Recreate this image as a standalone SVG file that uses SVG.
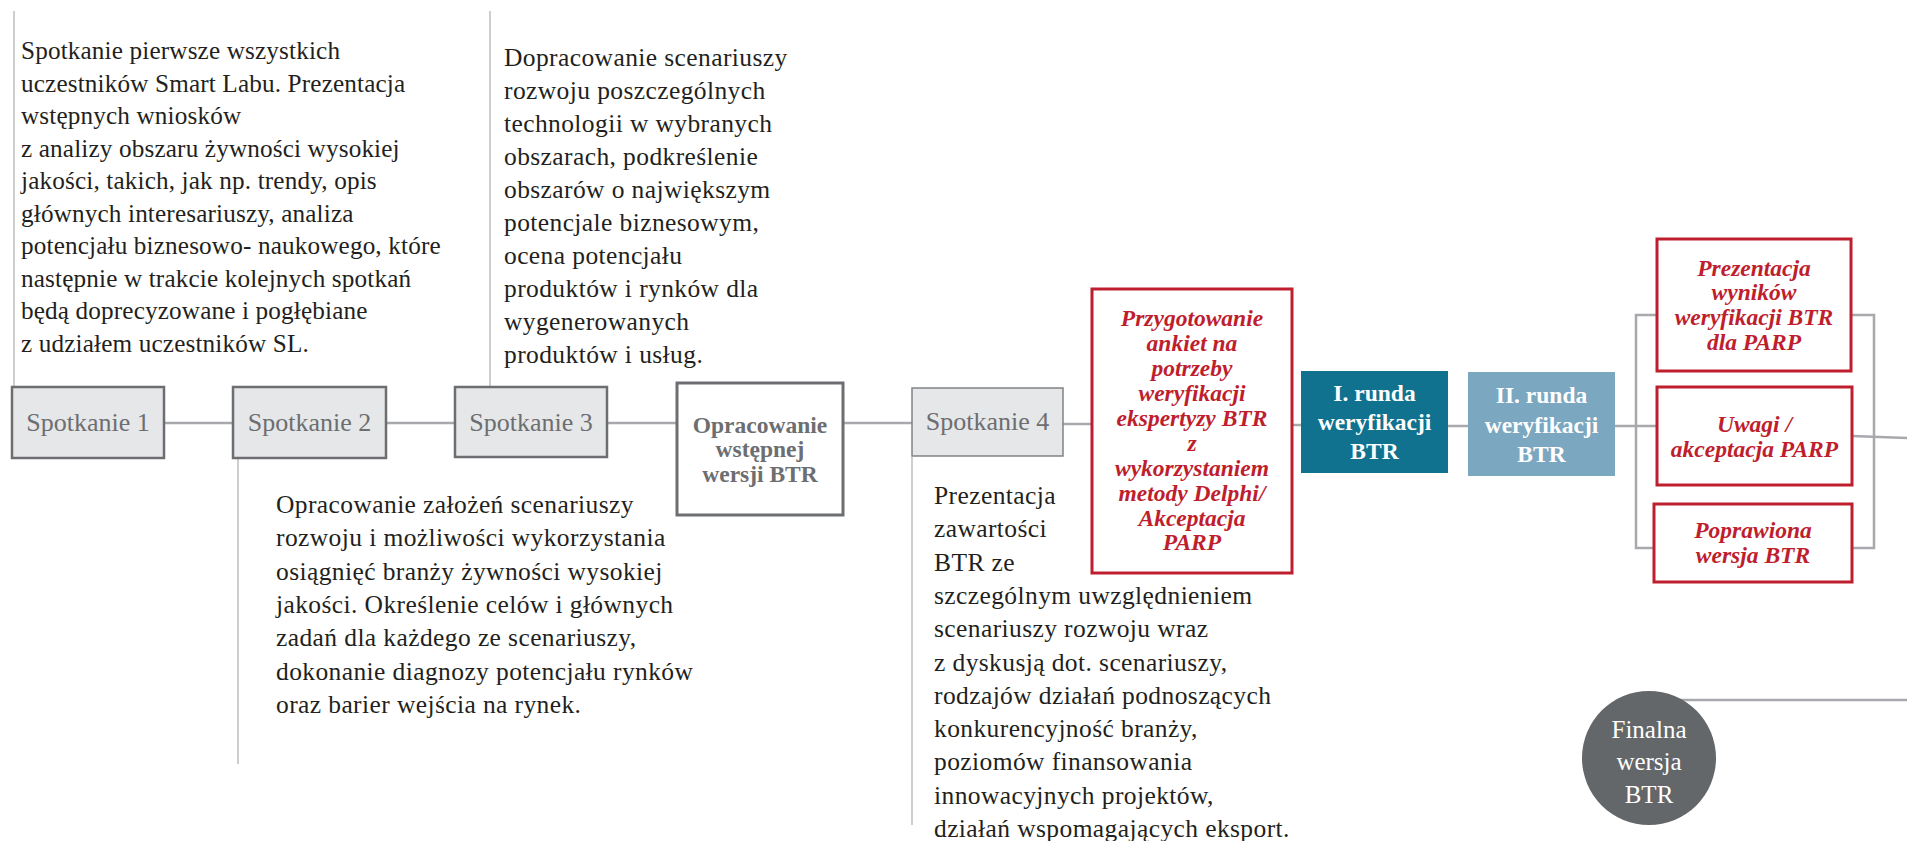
<svg xmlns="http://www.w3.org/2000/svg" width="1907" height="841" viewBox="0 0 1907 841">
<style>
.bg{fill:#ffffff}
.conn{stroke:#a7a9ac;stroke-width:2.5;fill:none}
.vline{stroke:#bcbec0;stroke-width:1.5;fill:none}
.gbox{fill:#e6e7e8;stroke:#6d6e71;stroke-width:2.5}
.gbox4{fill:#e6e7e8;stroke:#808285;stroke-width:1.5}
.wbox{fill:#ffffff;stroke:#6d6e71;stroke-width:3}
.rbox{fill:#ffffff;stroke:#be1e2d;stroke-width:3}
.gtxt{font-family:"Liberation Serif","Times New Roman",serif;font-size:26px;fill:#6d6e71;text-anchor:middle}
.desc{font-family:"Liberation Serif","Times New Roman",serif;font-size:25.5px;fill:#231f20;letter-spacing:0.4px}
.desc1{font-family:"Liberation Serif","Times New Roman",serif;font-size:25.2px;fill:#231f20;letter-spacing:0.15px}
.btxt{font-family:"Liberation Serif","Times New Roman",serif;font-size:23.5px;font-weight:bold;fill:#6d6e71;text-anchor:middle}
.rtxt{font-family:"Liberation Serif","Times New Roman",serif;font-size:23.5px;font-weight:bold;font-style:italic;fill:#be1e2d;text-anchor:middle}
.wtxt{font-family:"Liberation Serif","Times New Roman",serif;font-size:23.5px;font-weight:bold;fill:#ffffff;text-anchor:middle}
.ftxt{font-family:"Liberation Serif","Times New Roman",serif;font-size:25px;fill:#ffffff;text-anchor:middle}
</style>
<rect class="bg" x="0" y="0" width="1907" height="841"/>
<g id="connectors">
  <line class="vline" x1="14" y1="11" x2="14" y2="387"/>
  <line class="vline" x1="490" y1="11" x2="490" y2="387"/>
  <line class="vline" x1="238" y1="458" x2="238" y2="764"/>
  <line class="vline" x1="912" y1="457" x2="912" y2="825"/>
  <line class="conn" x1="164" y1="423" x2="233" y2="423"/>
  <line class="conn" x1="386" y1="423" x2="455" y2="423"/>
  <line class="conn" x1="607" y1="423" x2="677" y2="423"/>
  <line class="conn" x1="843" y1="423" x2="912" y2="423"/>
  <line class="conn" x1="1063" y1="424" x2="1092" y2="424"/>
  <line class="conn" x1="1292" y1="425" x2="1301" y2="425"/>
  <line class="conn" x1="1448" y1="426" x2="1468" y2="426"/>
  <line class="conn" x1="1615" y1="426" x2="1657" y2="426"/>
  <polyline class="conn" points="1657,315 1636,315 1636,548 1654,548"/>
  <polyline class="conn" points="1851,315 1874,315 1874,548 1852,548"/>
  <line class="conn" x1="1852" y1="436" x2="1907" y2="438"/>
  <line class="conn" x1="1677" y1="700" x2="1907" y2="700"/>
</g>
<g id="spotkanie1">
  <rect class="gbox" x="12" y="387" width="152" height="71"/>
  <text class="gtxt" x="88" y="431">Spotkanie 1</text>
</g>
<g id="spotkanie2">
  <rect class="gbox" x="233" y="387" width="153" height="71"/>
  <text class="gtxt" x="309.5" y="431">Spotkanie 2</text>
</g>
<g id="spotkanie3">
  <rect class="gbox" x="455" y="387" width="152" height="70"/>
  <text class="gtxt" x="531" y="431">Spotkanie 3</text>
</g>
<g id="opracowanie">
  <rect class="wbox" x="677" y="383" width="166" height="132"/>
  <text class="btxt" x="760" y="433">Opracowanie</text>
  <text class="btxt" x="760" y="457">wstępnej</text>
  <text class="btxt" x="760" y="482">wersji BTR</text>
</g>
<g id="spotkanie4">
  <rect class="gbox4" x="912" y="388" width="151" height="68"/>
  <text class="gtxt" x="987.5" y="430">Spotkanie 4</text>
</g>
<g id="przygotowanie">
  <rect class="rbox" x="1092" y="289" width="200" height="284"/>
  <text class="rtxt" x="1192" y="326">Przygotowanie</text>
  <text class="rtxt" x="1192" y="351">ankiet na</text>
  <text class="rtxt" x="1192" y="376">potrzeby</text>
  <text class="rtxt" x="1192" y="401">weryfikacji</text>
  <text class="rtxt" x="1192" y="426">ekspertyzy BTR</text>
  <text class="rtxt" x="1192" y="451">z</text>
  <text class="rtxt" x="1192" y="476">wykorzystaniem</text>
  <text class="rtxt" x="1192" y="501">metody Delphi/</text>
  <text class="rtxt" x="1192" y="526">Akceptacja</text>
  <text class="rtxt" x="1192" y="550">PARP</text>
</g>
<g id="runda1">
  <rect x="1301" y="371" width="147" height="102" fill="#10728f"/>
  <text class="wtxt" x="1374.5" y="401">I. runda</text>
  <text class="wtxt" x="1374.5" y="430">weryfikacji</text>
  <text class="wtxt" x="1374.5" y="459">BTR</text>
</g>
<g id="runda2">
  <rect x="1468" y="372" width="147" height="104" fill="#7ba7c0"/>
  <text class="wtxt" x="1541.5" y="403">II. runda</text>
  <text class="wtxt" x="1541.5" y="433">weryfikacji</text>
  <text class="wtxt" x="1541.5" y="462">BTR</text>
</g>
<g id="prezentacja">
  <rect class="rbox" x="1657" y="239" width="194" height="132"/>
  <text class="rtxt" x="1754" y="276">Prezentacja</text>
  <text class="rtxt" x="1754" y="300">wyników</text>
  <text class="rtxt" x="1754" y="325">weryfikacji BTR</text>
  <text class="rtxt" x="1754" y="350">dla PARP</text>
</g>
<g id="uwagi">
  <rect class="rbox" x="1657" y="387" width="195" height="98"/>
  <text class="rtxt" x="1754.5" y="432">Uwagi /</text>
  <text class="rtxt" x="1754.5" y="457">akceptacja PARP</text>
</g>
<g id="poprawiona">
  <rect class="rbox" x="1654" y="504" width="198" height="78"/>
  <text class="rtxt" x="1753" y="538">Poprawiona</text>
  <text class="rtxt" x="1753" y="563">wersja BTR</text>
</g>
<g id="finalna">
  <ellipse cx="1649" cy="758" rx="67" ry="67" fill="#636769"/>
  <text class="ftxt" x="1649" y="738">Finalna</text>
  <text class="ftxt" x="1649" y="770">wersja</text>
  <text class="ftxt" x="1649" y="803">BTR</text>
</g>
<g id="opis1">
  <text class="desc1" x="21" y="59">Spotkanie pierwsze wszystkich</text>
  <text class="desc1" x="21" y="91.5">uczestników Smart Labu. Prezentacja</text>
  <text class="desc1" x="21" y="124">wstępnych wniosków</text>
  <text class="desc1" x="21" y="156.5">z analizy obszaru żywności wysokiej</text>
  <text class="desc1" x="21" y="189">jakości, takich, jak np. trendy, opis</text>
  <text class="desc1" x="21" y="221.5">głównych interesariuszy, analiza</text>
  <text class="desc1" x="21" y="254">potencjału biznesowo- naukowego, które</text>
  <text class="desc1" x="21" y="286.5">następnie w trakcie kolejnych spotkań</text>
  <text class="desc1" x="21" y="319">będą doprecyzowane i pogłębiane</text>
  <text class="desc1" x="21" y="351.5">z udziałem uczestników SL.</text>
</g>
<g id="opis2">
  <text class="desc" x="276" y="513">Opracowanie założeń scenariuszy</text>
  <text class="desc" x="276" y="546.3">rozwoju i możliwości wykorzystania</text>
  <text class="desc" x="276" y="579.6">osiągnięć branży żywności wysokiej</text>
  <text class="desc" x="276" y="612.9">jakości. Określenie celów i głównych</text>
  <text class="desc" x="276" y="646.2">zadań dla każdego ze scenariuszy,</text>
  <text class="desc" x="276" y="679.5">dokonanie diagnozy potencjału rynków</text>
  <text class="desc" x="276" y="712.8">oraz barier wejścia na rynek.</text>
</g>
<g id="opis3">
  <text class="desc" x="504" y="66">Dopracowanie scenariuszy</text>
  <text class="desc" x="504" y="99">rozwoju poszczególnych</text>
  <text class="desc" x="504" y="132">technologii w wybranych</text>
  <text class="desc" x="504" y="165">obszarach, podkreślenie</text>
  <text class="desc" x="504" y="198">obszarów o największym</text>
  <text class="desc" x="504" y="231">potencjale biznesowym,</text>
  <text class="desc" x="504" y="264">ocena potencjału</text>
  <text class="desc" x="504" y="297">produktów i rynków dla</text>
  <text class="desc" x="504" y="330">wygenerowanych</text>
  <text class="desc" x="504" y="363">produktów i usług.</text>
</g>
<g id="opis4">
  <text class="desc" x="934" y="504">Prezentacja</text>
  <text class="desc" x="934" y="537.3">zawartości</text>
  <text class="desc" x="934" y="570.6">BTR ze</text>
  <text class="desc" x="934" y="603.9">szczególnym uwzględnieniem</text>
  <text class="desc" x="934" y="637.2">scenariuszy rozwoju wraz</text>
  <text class="desc" x="934" y="670.5">z dyskusją dot. scenariuszy,</text>
  <text class="desc" x="934" y="703.8">rodzajów działań podnoszących</text>
  <text class="desc" x="934" y="737.1">konkurencyjność branży,</text>
  <text class="desc" x="934" y="770.4">poziomów finansowania</text>
  <text class="desc" x="934" y="803.7">innowacyjnych projektów,</text>
  <text class="desc" x="934" y="837">działań wspomagających eksport.</text>
</g>
</svg>
